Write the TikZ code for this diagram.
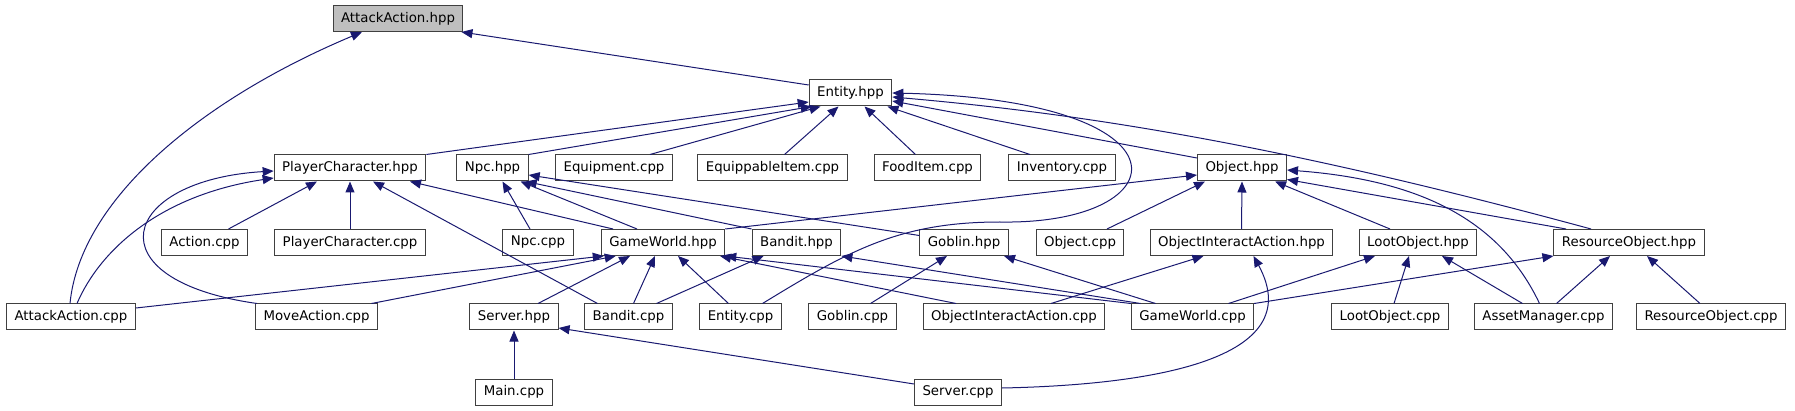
\documentclass[tikz,border=0pt]{standalone}
\usepackage{fontspec}
\setmainfont{DejaVu Sans}
\usetikzlibrary{arrows.meta}
\definecolor{edgeblue}{RGB}{25,25,112}
\definecolor{boxline}{RGB}{64,64,64}

\begin{document}
\begin{tikzpicture}[x=1pt, y=-1pt,
  file/.style={draw=boxline, line width=1pt, fill=white, inner xsep=8pt,
    minimum height=26pt, font=\fontsize{13.33}{16}\selectfont},
  dep/.style={draw=edgeblue, line width=1pt,
    -{Triangle[length=11pt,width=9pt]}}]
  \useasboundingbox (0,0) rectangle (1795,411);
  % Ligne 0 et 1
  \node[file, fill=black!25] (aah) at (398,18.5) {AttackAction.hpp};
  \node[file] (ent) at (850.5,93) {Entity.hpp};
  % Ligne 2
  \node[file] (pch) at (350,168) {PlayerCharacter.hpp};
  \node[file] (npch) at (492.5,168) {Npc.hpp};
  \node[file] (eqc) at (614,168) {Equipment.cpp};
  \node[file] (eic) at (772.5,168) {EquippableItem.cpp};
  \node[file] (fic) at (927.5,168) {FoodItem.cpp};
  \node[file] (invc) at (1062,168) {Inventory.cpp};
  \node[file] (objh) at (1242,168) {Object.hpp};
  % Ligne 3
  \node[file] (actc) at (204.5,242.5) {Action.cpp};
  \node[file] (pcc) at (350,242.5) {PlayerCharacter.cpp};
  \node[file] (npcc) at (538,242.5) {Npc.cpp};
  \node[file] (gwh) at (663,242.5) {GameWorld.hpp};
  \node[file] (bdh) at (796.5,242.5) {Bandit.hpp};
  \node[file] (gbh) at (964,242.5) {Goblin.hpp};
  \node[file] (objc) at (1080,242.5) {Object.cpp};
  \node[file] (oiah) at (1241.5,242.5) {ObjectInteractAction.hpp};
  \node[file] (loh) at (1418,242.5) {LootObject.hpp};
  \node[file] (roh) at (1629,242.5) {ResourceObject.hpp};
  % Ligne 4
  \node[file] (aac) at (71,317) {AttackAction.cpp};
  \node[file] (mac) at (316.5,317) {MoveAction.cpp};
  \node[file] (srvh) at (514,317) {Server.hpp};
  \node[file] (bdc) at (628.5,317) {Bandit.cpp};
  \node[file] (entc) at (740.5,317) {Entity.cpp};
  \node[file] (gbc) at (852.5,317) {Goblin.cpp};
  \node[file] (oiac) at (1014,317) {ObjectInteractAction.cpp};
  \node[file] (gwc) at (1192.5,317) {GameWorld.cpp};
  \node[file] (loc) at (1390,317) {LootObject.cpp};
  \node[file] (amc) at (1543.5,317) {AssetManager.cpp};
  \node[file] (roc) at (1711,317) {ResourceObject.cpp};
  % Ligne 5
  \node[file] (mainc) at (514,392) {Main.cpp};
  \node[file] (srvc) at (958,392) {Server.cpp};
  % Vers AttackAction.hpp
  \draw[dep] ([xshift=-1]aac.north) .. controls (80,200) and (200,100) .. ([xshift=-36]aah.south);
  \draw[dep] ([yshift=8]ent.west) -- ([xshift=-2]aah.south east);
  % Vers Entity.hpp
  \draw[dep] (pch.north east) -- ([yshift=-9]ent.west);
  \draw[dep] (npch.north east) -- ([xshift=3]ent.south west);
  \draw[dep] ([xshift=36]eqc.north) -- ([xshift=-30]ent.south);
  \draw[dep] ([xshift=12]eic.north) -- ([xshift=-12]ent.south);
  \draw[dep] ([xshift=-12]fic.north) -- ([xshift=14]ent.south);
  \draw[dep] ([xshift=-32]invc.north) -- ([xshift=37]ent.south);
  \draw[dep] ([yshift=10]objh.west) -- ([yshift=-8]ent.east);
  \draw[dep] ([xshift=-38]roh.north) .. controls (1300,150) and (1100,115) .. ([yshift=-4]ent.east);
  \draw[dep] ([xshift=22]entc.north) .. controls (850,250) and (900,222) .. (1000,222)
    .. controls (1180,225) and (1200,100) .. (ent.east);
  % Vers PlayerCharacter.hpp
  \draw[dep] ([xshift=6]aac.north) .. controls (100,250) and (160,195) .. ([yshift=-10]pch.west);
  \draw[dep] ([xshift=2]mac.north west) .. controls (90,280) and (120,180) .. ([yshift=-3]pch.west);
  \draw[dep] ([xshift=24]actc.north) -- ([xshift=-33]pch.south);
  \draw[dep] (pcc.north) -- (pch.south);
  \draw[dep] ([xshift=-31]bdc.north) -- ([xshift=23]pch.south);
  \draw[dep] ([xshift=-50]gwh.north) -- ([xshift=60]pch.south);
  % Vers Npc.hpp
  \draw[dep] ([xshift=-8]npcc.north) -- ([xshift=10]npch.south);
  \draw[dep] ([xshift=-26]gwh.north) -- ([xshift=28]npch.south);
  \draw[dep] (bdh.north west) -- ([xshift=-3]npch.south east);
  \draw[dep] ([yshift=7]gbh.west) -- ([yshift=-7]npch.east);
  % Vers Object.hpp
  \draw[dep] (gwh.north east) -- ([yshift=-7]objh.west);
  \draw[dep] ([xshift=27]objc.north) -- ([xshift=-37]objh.south);
  \draw[dep] (oiah.north) -- (objh.south);
  \draw[dep] ([xshift=-28]loh.north) -- ([xshift=33]objh.south);
  \draw[dep] ([xshift=-4]amc.north) .. controls (1500,220) and (1420,180) .. ([yshift=-2]objh.east);
  \draw[dep] ([xshift=-63]roh.north) -- ([yshift=2]objh.south east);
  % Vers GameWorld.hpp
  \draw[dep] ([yshift=9]aac.east) -- ([xshift=3]gwh.south west);
  \draw[dep] ([xshift=55]mac.north) -- ([xshift=15]gwh.south west);
  \draw[dep] ([xshift=24]srvh.north) -- ([xshift=-33]gwh.south);
  \draw[dep] ([xshift=5]bdc.north) -- ([xshift=-8]gwh.south);
  \draw[dep] ([xshift=-12]entc.north) -- ([xshift=15]gwh.south);
  \draw[dep] ([xshift=-58]oiac.north) -- ([xshift=57]gwh.south);
  \draw[dep] (gwc.north west) -- (gwh.south east);
  % Vers Bandit.hpp et Goblin.hpp
  \draw[dep] ([xshift=28]bdc.north) -- ([xshift=-33]bdh.south);
  \draw[dep] ([xshift=-52]gwc.north) -- (bdh.south east);
  \draw[dep] ([xshift=18]gbc.north) -- ([xshift=-17]gbh.south);
  \draw[dep] ([xshift=-37]gwc.north) -- ([xshift=40]gbh.south);
  % Vers ObjectInteractAction.hpp
  \draw[dep] ([xshift=37]oiac.north) -- ([xshift=-38]oiah.south);
  \draw[dep] ([yshift=4]srvc.east) .. controls (1150,385) and (1310,360) .. ([xshift=12]oiah.south);
  % Vers LootObject.hpp
  \draw[dep] ([xshift=36]gwc.north) -- ([xshift=-43]loh.south);
  \draw[dep] ([xshift=4]loc.north) -- ([xshift=-9]loh.south);
  \draw[dep] ([xshift=-21]amc.north) -- ([xshift=24]loh.south);
  % Vers ResourceObject.hpp
  \draw[dep] (gwc.north east) -- (roh.south west);
  \draw[dep] ([xshift=13]amc.north) -- ([xshift=-19]roh.south);
  \draw[dep] ([xshift=-11]roc.north) -- ([xshift=18]roh.south);
  % Vers Server.hpp
  \draw[dep] (mainc.north) -- (srvh.south);
  \draw[dep] ([yshift=8]srvc.west) -- ([yshift=-11]srvh.east);
\end{tikzpicture}
\end{document}
